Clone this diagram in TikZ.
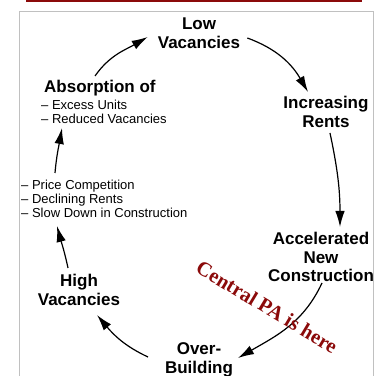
\documentclass[tikz,border=0pt]{standalone}
\usepackage{fontspec}
\setmainfont{Liberation Sans}
\newfontfamily\stampfont{Liberation Serif}
\usetikzlibrary{arrows.meta}
\definecolor{stampred}{RGB}{139,10,10}
\definecolor{framegrey}{RGB}{192,192,192}
\begin{document}
\begin{tikzpicture}[x=1bp,y=1bp,
  stage/.style={font=\fontsize{17bp}{18.5bp}\selectfont\bfseries, align=center, inner sep=0pt},
  note/.style={font=\fontsize{13bp}{14.2bp}\selectfont, align=left, inner sep=0pt, anchor=west},
  flow/.style={line width=1.2bp, -{Latex[length=16bp,width=9.5bp]}}]
  \useasboundingbox (0,0) rectangle (381,376);
  % title rule and frame
  \draw[stampred, line width=2bp] (26,375) -- (362,375);
  \draw[framegrey, line width=1.5bp] (19.5,-2) -- (19.5,364.5) -- (373.5,364.5) -- (373.5,-2);

  % stages of the cycle
  \node[stage] (low)  at (199,343) {Low\\Vacancies};
  \node[stage] (inc)  at (326,264) {Increasing\\Rents};
  \node[stage] (acc)  at (321,119) {Accelerated\\New\\Construction};
  \node[stage] (over) at (199,16)  {Over-\\Building};
  \node[stage] (high) at (79,86)   {High\\Vacancies};
  \node[stage, anchor=west] (abs) at (44,288) {Absorption of};
  \node[note] (exl)   at (41,264.5) {-- Excess Units\\-- Reduced Vacancies};
  \node[note] (price) at (21,177)   {-- Price Competition\\-- Declining Rents\\-- Slow Down in Construction};

  % the cycle, clockwise
  \draw[flow] ([shift={(51,12)}]abs.west) to[out=55,in=210] ([shift={(-10,-4)}]low.west);
  \draw[flow] ([shift={(7,-5)}]low.east) to[out=-20,in=120] ([shift={(-18,20)}]inc.center);
  \draw[flow] ([shift={(4,-21)}]inc.center) to[out=-78,in=90] ([shift={(19,30)}]acc.center);
  \draw[flow] ([shift={(1,-26)}]acc.center) to[out=-115,in=30] ([shift={(39,2)}]over.center);
  \draw[flow] ([shift={(-51,3)}]over.center) to[out=155,in=-50] ([shift={(18,-25)}]high.center);
  \draw[flow] ([shift={(-11,22)}]high.center) to[out=102,in=-75] ([shift={(36,-27)}]price.west);
  \draw[flow] ([shift={(34,26)}]price.west) to[out=85,in=-100] ([shift={(21,-16.5)}]exl.west);

  % overlay stamp
  \node[text=stampred, font=\stampfont\bfseries\fontsize{20.5bp}{22bp}\selectfont, rotate=-31, inner sep=0pt] (stamp) at (267,69) {Central PA is here};
\end{tikzpicture}
\end{document}
